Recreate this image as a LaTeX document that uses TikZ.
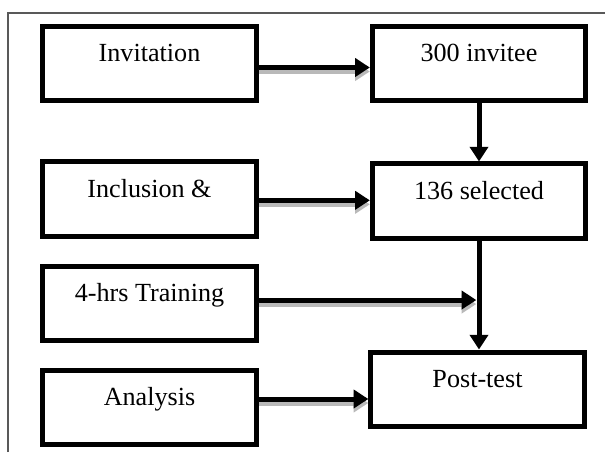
\documentclass[tikz,border=0pt]{standalone}
\usepackage{fontspec}
\setmainfont{Liberation Serif}
\usepackage{tikz}
\usetikzlibrary{arrows.meta, positioning, calc}

\tikzset{
    stage/.style={draw, line width=3.75pt, inner sep=0pt, minimum width=160pt,
        text height=26.25pt, text depth=29.25pt, font=\fontsize{19.6}{22}\selectfont},
    flow/.style={line width=3.75pt, -{Triangle[length=11pt, width=13.5pt]}},
    flowshadow/.style={flow, gray!55, transform canvas={yshift=-3pt}},
}

\begin{document}
\begin{tikzpicture}[x=0.75pt, y=-0.75pt]
    \useasboundingbox (0,0) rectangle (605,452);

    % Frame
    \draw[gray!70!black, line width=0.9pt] (8,452) -- (8,13) -- (605,13);

    % Boxes
    \node[stage] (inv)     at (149.5, 63.5) {Invitation};
    \node[stage] (invitee) at (479, 63.5)   {300 invitee};
    \node[stage] (incl)    at (149.5, 199)  {Inclusion \&};
    \node[stage] (sel)     at (479, 201)    {136 selected};
    \node[stage] (train)   at (149.5, 303.5){4-hrs Training};
    \node[stage] (post)    at (477.5, 389)  {Post-test};
    \node[stage] (ana)     at (149.5, 407)  {Analysis};

    % Arrow ends
    \coordinate (a1) at ([yshift=-3pt]inv.east);
    \coordinate (b1) at (a1 -| invitee.west);
    \coordinate (a2) at ([yshift=-1pt]incl.east);
    \coordinate (b2) at (a2 -| sel.west);
    \coordinate (a3) at ([yshift=2.6pt]train.east);
    \coordinate (b3) at ([xshift=-2pt]a3 -| sel.south);
    \coordinate (a4) at ([yshift=6pt]ana.east);
    \coordinate (b4) at (a4 -| post.west);

    % Horizontal arrows with shadow
    \foreach \a/\b in {a1/b1, a2/b2, a3/b3, a4/b4} {
        \draw[flowshadow] (\a) -- (\b);
        \draw[flow] (\a) -- (\b);
    }

    % Vertical arrows
    \draw[flow] (invitee.south) -- (sel.north);
    \draw[flow] (sel.south) -- (sel.south |- post.north);
\end{tikzpicture}
\end{document}
